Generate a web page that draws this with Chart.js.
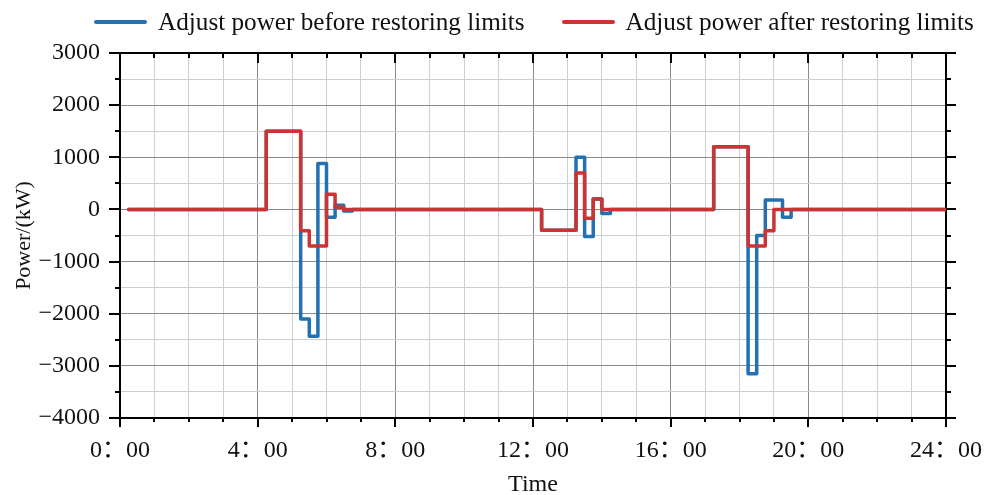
<!DOCTYPE html>
<html lang="en">
<head>
  <meta charset="UTF-8" />
  <title>Adjust power before / after restoring limits</title>
  <script src="https://cdn.jsdelivr.net/npm/chart.js"></script>
  <style>
    body {
      margin: 0;
      background: #ffffff;
    }
    .wrap {
      position: relative;
      width: 991px;
      height: 495px;
    }
    #legend {
      position: absolute;
      left: 94px;
      top: 6px;
      height: 32px;
      display: flex;
      align-items: center;
      font-family: "Liberation Serif", "Times New Roman", serif;
      font-size: 25.2px;
      color: #111;
      white-space: nowrap;
    }
    .item {
      display: flex;
      align-items: center;
      margin-right: 37px;
    }
    .swatch {
      width: 53px;
      height: 4px;
      border-radius: 2px;
      margin-right: 11px;
    }
  </style>
</head>
<body>
  <div class="wrap">
    <div id="legend"></div>
    <canvas id="powerChart" width="991" height="495"></canvas>
  </div>

  <script>
    // series names and colours
    const seriesNames = ["Adjust power before restoring limits", "Adjust power after restoring limits"];
    const seriesColors = ["#2371b0", "#cc3333"];

    // step breakpoints: hour of day, value held until the next breakpoint (kW)
    const beforeTimes = [0.25, 4.25, 5.25, 5.5, 5.75, 6.0, 6.25, 6.5, 6.75, 12.25, 13.25, 13.5, 13.75, 14.0, 14.25, 17.25, 18.25, 18.5, 18.75, 19.25, 19.5, 24];
    const beforePower = [0, 1500, -2100, -2430, 880, -150, 80, -30, 0, -400, 1000, -520, 200, -80, 0, 1200, -3150, -500, 180, -150, 0, 0];

    const afterTimes = [0.25, 4.25, 5.25, 5.5, 6.0, 6.25, 6.5, 12.25, 13.25, 13.5, 13.75, 14.0, 17.25, 18.25, 18.75, 19.0, 24];
    const afterPower = [0, 1500, -410, -700, 290, 40, 0, -400, 700, -170, 200, 0, 1200, -700, -410, 0, 0];

    // axes
    const xTicks = [0, 4, 8, 12, 16, 20, 24];
    const yTicks = [-4000, -3000, -2000, -1000, 0, 1000, 2000, 3000];

    const serif = "'Liberation Serif', 'Noto Sans CJK SC', serif";
    const majorGrid = "#8a8a8a";
    const minorGrid = "#cfcfcf";

    function toPoints(times, vals) {
      return times.map((t, i) => ({ x: t, y: vals[i] }));
    }

    // legend as html
    const legendEl = document.getElementById("legend");
    seriesNames.forEach((name, i) => {
      const item = document.createElement("div");
      item.className = "item";
      const sw = document.createElement("span");
      sw.className = "swatch";
      sw.style.background = seriesColors[i];
      const txt = document.createElement("span");
      txt.textContent = name;
      item.appendChild(sw);
      item.appendChild(txt);
      legendEl.appendChild(item);
    });

    // minor / major tick marks around the frame
    const frameTicks = {
      id: "frameTicks",
      afterDraw(chart) {
        const ctx = chart.ctx;
        const a = chart.chartArea;
        const xs = chart.scales.x;
        const ys = chart.scales.y;
        ctx.save();
        ctx.strokeStyle = "#000";
        ctx.lineWidth = 2;
        ctx.beginPath();
        for (let h = 0; h <= 24; h++) {
          const px = Math.round(xs.getPixelForValue(h));
          const major = xTicks.includes(h);
          // bottom: outward
          ctx.moveTo(px, a.bottom);
          ctx.lineTo(px, a.bottom + (major ? 9 : 4));
          // top: inward
          ctx.moveTo(px, a.top);
          ctx.lineTo(px, a.top + (major ? 10 : 5));
        }
        for (let v = -4000; v <= 3000; v += 500) {
          const py = Math.round(ys.getPixelForValue(v));
          const major = yTicks.includes(v);
          // left: outward
          ctx.moveTo(a.left, py);
          ctx.lineTo(a.left - (major ? 11 : 5), py);
          // right: outward
          ctx.moveTo(a.right, py);
          ctx.lineTo(a.right + (major ? 10 : 5), py);
        }
        ctx.stroke();
        ctx.restore();
      }
    };

    new Chart(document.getElementById("powerChart"), {
      type: "line",
      data: {
        datasets: [
          {
            label: seriesNames[0],
            data: toPoints(beforeTimes, beforePower),
            borderColor: seriesColors[0],
            backgroundColor: seriesColors[0],
            borderWidth: 3.5,
            stepped: true,
            pointRadius: 0,
            borderJoinStyle: "round",
            borderCapStyle: "round",
            order: 1
          },
          {
            label: seriesNames[1],
            data: toPoints(afterTimes, afterPower),
            borderColor: seriesColors[1],
            backgroundColor: seriesColors[1],
            borderWidth: 3.5,
            stepped: true,
            pointRadius: 0,
            borderJoinStyle: "round",
            borderCapStyle: "round",
            order: 0
          }
        ]
      },
      options: {
        responsive: false,
        animation: false,
        layout: { padding: 0 },
        plugins: {
          legend: { display: false },
          title: { display: false },
          tooltip: { enabled: false }
        },
        scales: {
          x: {
            type: "linear",
            position: "bottom",
            min: 0,
            max: 24,
            afterBuildTicks: s => { s.ticks = Array.from({ length: 25 }, (_, h) => ({ value: h })); },
            afterFit: s => { s.height = 77; s.paddingLeft = 0; s.paddingRight = 0; },
            ticks: {
              autoSkip: false,
              maxRotation: 0,
              padding: 18,
              color: "#111",
              font: { family: serif, size: 24 },
              callback: v => xTicks.includes(v) ? v + "：00" : ""
            },
            grid: {
              drawTicks: false,
              lineWidth: 1,
              color: c => xTicks.includes(c.tick.value) ? majorGrid : minorGrid
            },
            border: { color: "#000", width: 2 },
            title: {
              display: true,
              text: "Time",
              color: "#111",
              font: { family: serif, size: 24 },
              padding: { top: 0, bottom: -4 }
            }
          },
          xTop: {
            type: "linear",
            position: "top",
            min: 0,
            max: 24,
            afterFit: s => { s.height = 53; },
            ticks: { display: false },
            grid: { display: false, drawTicks: false },
            border: { color: "#000", width: 2 }
          },
          y: {
            type: "linear",
            position: "left",
            min: -4000,
            max: 3000,
            afterBuildTicks: s => {
              const t = [];
              for (let v = -4000; v <= 3000; v += 500) t.push({ value: v });
              s.ticks = t;
            },
            afterFit: s => { s.width = 120; },
            ticks: {
              autoSkip: false,
              padding: 20,
              color: "#111",
              font: { family: serif, size: 24 },
              callback: v => yTicks.includes(v) ? String(v).replace("-", "\u2212") : ""
            },
            grid: {
              drawTicks: false,
              lineWidth: 1,
              color: c => yTicks.includes(c.tick.value) ? majorGrid : minorGrid
            },
            border: { color: "#000", width: 2 },
            title: {
              display: true,
              text: "Power/(kW)",
              color: "#111",
              font: { family: serif, size: 22 },
              padding: { top: 11, bottom: 0 }
            }
          },
          yRight: {
            type: "linear",
            position: "right",
            min: -4000,
            max: 3000,
            afterFit: s => { s.width = 45; },
            ticks: { display: false },
            grid: { display: false, drawTicks: false },
            border: { color: "#000", width: 2 }
          }
        }
      },
      plugins: [frameTicks]
    });
  </script>
</body>
</html>
